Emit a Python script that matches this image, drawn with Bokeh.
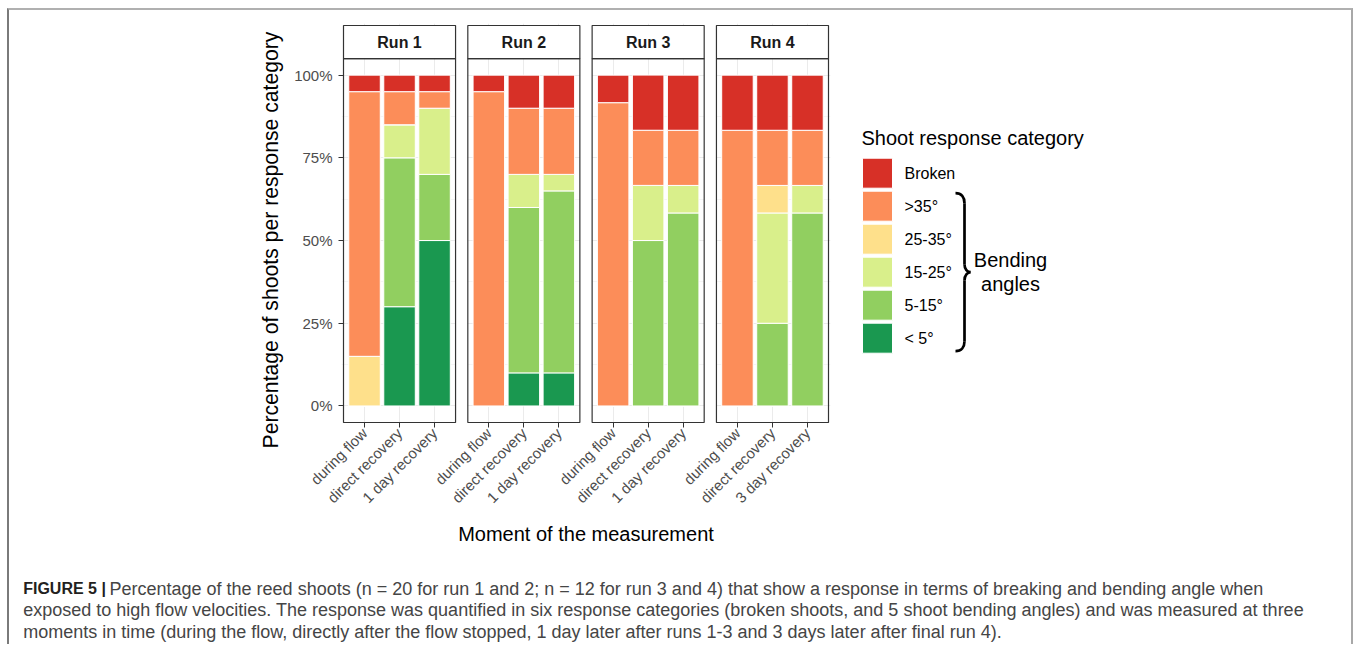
from math import pi
from bokeh.plotting import figure
from bokeh.models import ColumnDataSource, Range1d, FixedTicker, PrintfTickFormatter, Title
from bokeh.layouts import row, column
from bokeh.embed import file_html
from bokeh.resources import INLINE
from bokeh.core.properties import value

# ---------------- data ----------------
runs = ["Run 1", "Run 2", "Run 3", "Run 4"]
moments = ["during flow", "direct recovery", "1 day recovery",
           "during flow", "direct recovery", "1 day recovery",
           "during flow", "direct recovery", "1 day recovery",
           "during flow", "direct recovery", "3 day recovery"]
# stacking order bottom -> top
categories = ["< 5°", "5-15°", "15-25°", "25-35°", ">35°", "Broken"]
colors = ["#1A9850", "#91CF60", "#D9EF8B", "#FEE08B", "#FC8D59", "#D73027"]

lt5     = [0, 30, 50,   0, 10, 10,   0,     0,     0,      0,     0,     0]
b5_15   = [0, 45, 20,   0, 50, 55,   0,     50,    58.33,  0,     25,    58.33]
b15_25  = [0, 10, 20,   0, 10, 5,    0,     16.67, 8.33,   0,     33.33, 8.33]
b25_35  = [15, 0, 0,    0, 0, 0,     0,     0,     0,      0,     8.33,  0]
gt35    = [80, 10, 5,   95, 20, 20,  91.67, 16.67, 16.67,  83.33, 16.67, 16.67]
broken  = [5, 5, 5,     5, 10, 10,   8.33,  16.67, 16.67,  16.67, 16.67, 16.67]
series = [lt5, b5_15, b15_25, b25_35, gt35, broken]

y_ticks = [0, 25, 50, 75, 100]
y_minor = [12.5, 37.5, 62.5, 87.5]

legend_title = "Shoot response category"
brace_label = ["Bending", "angles"]
x_title = "Moment of the measurement"
y_title = "Percentage of shoots per response category"
caption_bold = "FIGURE 5 |"
caption_lines = [
    "Percentage of the reed shoots (n = 20 for run 1 and 2; n = 12 for run 3 and 4) that show a response in terms of breaking and bending angle when",
    "exposed to high flow velocities. The response was quantified in six response categories (broken shoots, and 5 shoot bending angles) and was measured at three",
    "moments in time (during the flow, directly after the flow stopped, 1 day later after runs 1-3 and 3 days later after final run 4).",
]

# ---------------- layout constants ----------------
FONT = "Liberation Sans"
OX, OY = 9, 10            # content origin on the page (after margin + frame border)
GAP = 0.35
PSPAN = 3.2 + GAP
n_per = 3
nb = len(moments)
xs = [(i // n_per) * PSPAN + (i % n_per) + 1 for i in range(nb)]
pl = [k * PSPAN + 0.4 for k in range(len(runs))]
pr = [k * PSPAN + 3.6 for k in range(len(runs))]
pc = [(a + b) / 2 for a, b in zip(pl, pr)]

PANELS_PX = 485
PAD = 2
u = PANELS_PX / (pr[-1] - pl[0])
pad_u = PAD / u
Y0, Y1, YS = -5, 105, 115
v = 397 / (YS - Y0)
pad_v = PAD / v

BT, BB = 13, 100           # shared top / bottom borders of the row figures
FRAME_H = 401
ROW_H = BT + FRAME_H + BB
MAIN_L, MAIN_R = 332, 10
MAIN_W = MAIN_L + PANELS_PX + 2 * PAD + MAIN_R
LEG_W = 1342 - MAIN_W
CAP_H = 120

x_range = Range1d(pl[0] - pad_u, pr[-1] + pad_u)
y_range = Range1d(Y0 - pad_v, YS + pad_v)

# ---------------- main panels ----------------
p = figure(width=MAIN_W, height=ROW_H, x_range=x_range, y_range=y_range,
           min_border_left=MAIN_L, min_border_right=MAIN_R, min_border_top=BT, min_border_bottom=BB,
           output_backend="svg", toolbar_location=None)
p.outline_line_color = None

p.xgrid.ticker = FixedTicker(ticks=xs)
p.xgrid.grid_line_color = "#EBEBEB"
p.xgrid.grid_line_width = 1
yt = FixedTicker(ticks=y_ticks, minor_ticks=y_minor)
p.ygrid.ticker = yt
p.ygrid.grid_line_color = "#EBEBEB"
p.ygrid.grid_line_width = 1
p.ygrid.minor_grid_line_color = "#EFEFEF"
p.ygrid.minor_grid_line_width = 0.6

# white gaps between panels
p.quad(left=pr[:-1], right=pl[1:], bottom=Y0 - pad_v, top=YS + pad_v,
       fill_color="white", line_color=None)

src = ColumnDataSource(dict(x=xs, **{c: s for c, s in zip(categories, series)}))
p.vbar_stack(categories, x="x", width=0.9, fill_color=colors, line_color="white",
             line_width=1, source=src)

p.quad(left=pl, right=pr, bottom=Y0, top=Y1, fill_color=None, line_color="#333333", line_width=1.2)
p.quad(left=pl, right=pr, bottom=Y1, top=YS, fill_color="white", line_color="#333333", line_width=1.2)
p.text(x=pc, y=[(Y1 + YS) / 2] * len(runs), text=runs, text_font=value(FONT),
       text_font_style="bold", text_font_size="16px", text_align="center",
       text_baseline="middle", text_color="#1A1A1A")

p.xaxis.ticker = FixedTicker(ticks=xs)
p.xaxis.major_label_overrides = {x: m for x, m in zip(xs, moments)}
p.xaxis.major_label_orientation = pi / 4
p.yaxis.ticker = yt
p.yaxis.formatter = PrintfTickFormatter(format="%d%%")
for ax in (p.xaxis, p.yaxis):
    ax.axis_line_color = None
    ax.major_tick_line_color = "#333333"
    ax.major_tick_in = 2
    ax.major_tick_out = 3
    ax.minor_tick_line_color = None
    ax.major_label_text_font = FONT
    ax.major_label_text_font_size = "15px"
    ax.major_label_text_color = "#4D4D4D"
p.yaxis.major_label_standoff = 5
p.xaxis.major_label_standoff = 3

# y-axis title, starting a little below the frame bottom so it is centred on the panel area
p.add_layout(Title(text=y_title, align="left", offset=-24, standoff=19,
                   text_font=FONT, text_font_size="21.2px", text_font_style="normal",
                   text_color="black"), "left")

# ---------------- legend figure (page pixel coordinates) ----------------
lx0 = OX + MAIN_W
leg = figure(width=LEG_W, height=ROW_H, x_range=Range1d(lx0, lx0 + LEG_W),
             y_range=Range1d(OY + BT + FRAME_H, OY + BT),
             min_border_left=0, min_border_right=0, min_border_top=BT, min_border_bottom=BB,
             x_axis_type=None, y_axis_type=None, output_backend="svg", toolbar_location=None)
leg.outline_line_color = None
leg.grid.visible = False
leg_cats = categories[::-1]
leg_cols = colors[::-1]
KEY = 30
ROWP = 33
ky = [172.7 + ROWP * i for i in range(len(leg_cats))]
leg.rect(x=[877] * len(ky), y=ky, width=KEY, height=KEY, fill_color=leg_cols, line_color="white")
leg.text(x=[904] * len(ky), y=ky, text=leg_cats, text_font=value(FONT), text_font_size="16px",
         text_baseline="middle", text_color="black")
leg.text(x=[861], y=[137], text=[legend_title], text_font=value(FONT), text_font_size="20px",
         text_baseline="middle", text_color="black")
bt = ky[1] - KEY / 2 + 2
bb = ky[-1] + KEY / 2 - 2
bm = (bt + bb) / 2
xa, xsp, xt = 955, 964, 970
leg.bezier(x0=[xa, xsp, xt, xsp], y0=[bt, bm - 8, bm, bb - 10],
           x1=[xsp, xt, xsp, xa], y1=[bt + 10, bm, bm + 8, bb],
           cx0=[xa + 6, xsp, xsp + 3, xsp], cy0=[bt, bm - 3, bm, bb - 4],
           cx1=[xsp, xsp + 3, xsp, xa + 6], cy1=[bt + 4, bm, bm + 3, bb],
           line_color="black", line_width=2.7)
leg.segment(x0=[xsp, xsp], y0=[bt + 10, bm + 8], x1=[xsp, xsp], y1=[bm - 8, bb - 10],
            line_color="black", line_width=2.7)
leg.text(x=[1010, 1010], y=[bm - 12, bm + 12], text=brace_label, text_font=value(FONT),
         text_font_size="20px", text_align="center", text_baseline="middle", text_color="black")

# ---------------- x title + caption figure (page pixel coordinates) ----------------
cy0 = OY + ROW_H
cap = figure(width=1342, height=CAP_H, x_range=Range1d(OX, OX + 1342), y_range=Range1d(cy0 + CAP_H, cy0),
             min_border=0, x_axis_type=None, y_axis_type=None,
             output_backend="svg", toolbar_location=None)
cap.outline_line_color = None
cap.grid.visible = False
cap.text(x=[585.5], y=[533], text=[x_title], text_font=value(FONT), text_font_size="20px",
         text_align="center", text_baseline="middle", text_color="black")
cap.text(x=[22.7], y=[588], text=[caption_bold], text_font=value(FONT),
         text_font_style="bold", text_font_size="16px", text_color="#231F20",
         text_baseline="alphabetic")
cap.text(x=[109, 22.7, 22.7], y=[588, 609.5, 631], text=caption_lines,
         text_font=value(FONT), text_font_size="18px", text_color="#454545",
         text_baseline="alphabetic")

layout = column(row(p, leg), cap,
                styles={"margin-left": "7px", "margin-top": "8px",
                        "border-top": "2px solid #B0B0B0", "border-left": "2px solid #7A7A7A",
                        "border-right": "2px solid #A8A8A8"})
open("out.html", "w").write(file_html(layout, INLINE))
